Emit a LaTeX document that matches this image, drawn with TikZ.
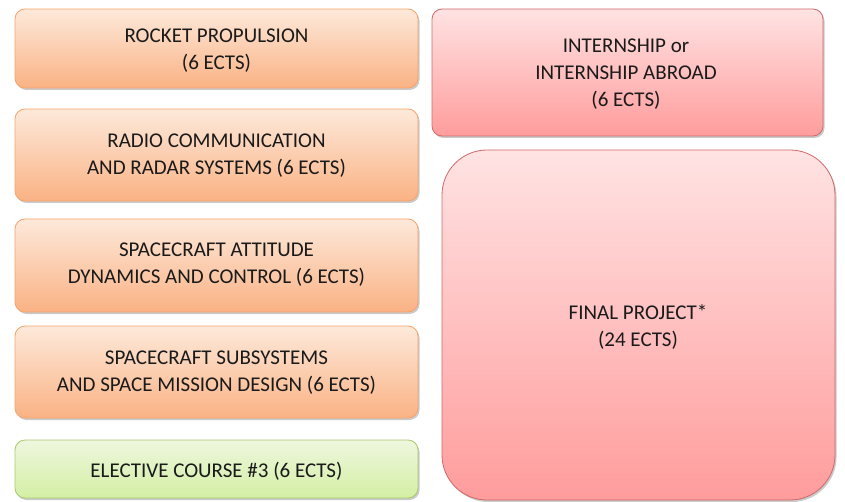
\documentclass[tikz,border=0pt]{standalone}
\usepackage{fontspec}
\setmainfont{Carlito}
\usetikzlibrary{shadows}
\definecolor{otop}{HTML}{FDE9DA}
\definecolor{obot}{HTML}{FAB284}
\definecolor{oline}{HTML}{F5A46B}
\definecolor{rtop}{HTML}{FFE3E3}
\definecolor{rbot}{HTML}{FF9C9C}
\definecolor{rline}{HTML}{D0686A}
\definecolor{gtop}{HTML}{EEF7DE}
\definecolor{gbot}{HTML}{D4EFA4}
\definecolor{gline}{HTML}{A9C96C}
\definecolor{txt}{HTML}{1A1A1A}
\tikzset{
  card/.style={rounded corners=10pt, line width=0.8pt,
    drop shadow={shadow xshift=1.5pt, shadow yshift=-2pt, opacity=0.35, fill=black!60}},
  orangecard/.style={card, draw=oline, top color=otop, bottom color=obot},
  redcard/.style={card, draw=rline, top color=rtop, bottom color=rbot},
  greencard/.style={card, draw=gline, top color=gtop, bottom color=gbot},
  label/.style={font=\fontsize{21}{26.8}\selectfont, text=txt, align=center},
}
\begin{document}
\begin{tikzpicture}[x=1pt,y=-1pt]
\useasboundingbox (0,0) rectangle (845,502);
\path[orangecard] (15,9) rectangle (418,88);
\node[label] (n1) at (216.5,51) {ROCKET PROPULSION\\(6 ECTS)};
\path[orangecard] (15,109) rectangle (418,201);
\node[label] (n2) at (216.5,156) {RADIO COMMUNICATION\\AND RADAR SYSTEMS (6 ECTS)};
\path[orangecard] (15,219) rectangle (418,312);
\node[label] (n3) at (216.5,265) {SPACECRAFT ATTITUDE\\DYNAMICS AND CONTROL (6 ECTS)};
\path[orangecard] (15,326) rectangle (418,418);
\node[label] (n4) at (216.5,372.5) {SPACECRAFT SUBSYSTEMS\\AND SPACE MISSION DESIGN (6 ECTS)};
\path[greencard] (15,440) rectangle (418,498);
\node[label] (n5) at (216.5,471) {ELECTIVE COURSE \#3 (6 ECTS)};
\path[redcard] (432,9) rectangle (823,136);
\node[label] (n6) at (626,74) {INTERNSHIP or\\INTERNSHIP ABROAD\\(6 ECTS)};
\path[redcard, rounded corners=45pt] (442,150) rectangle (835,500);
\node[label] (n7) at (638,327) {FINAL PROJECT*\\(24 ECTS)};
\end{tikzpicture}
\end{document}
